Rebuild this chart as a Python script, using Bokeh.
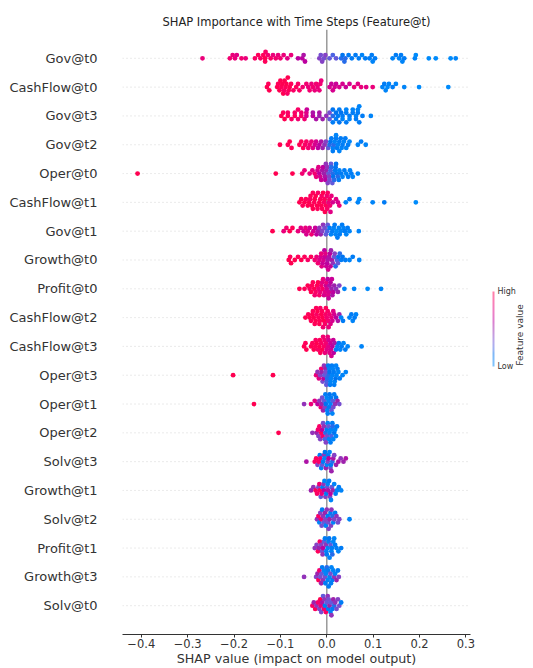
import math
import numpy as np
from bokeh.plotting import figure
from bokeh.models import (Range1d, FixedTicker, Span, ColorBar, LinearColorMapper,
                          LinearAxis, ColumnDataSource)
from bokeh.transform import transform
from bokeh.embed import file_html
from bokeh.resources import INLINE

# ---------------- data ----------------
features = ["Gov@t0", "CashFlow@t0", "Gov@t3", "Gov@t2", "Oper@t0", "CashFlow@t1",
            "Gov@t1", "Growth@t0", "Profit@t0", "CashFlow@t2", "CashFlow@t3", "Oper@t3",
            "Oper@t1", "Oper@t2", "Solv@t3", "Growth@t1", "Solv@t2", "Profit@t1",
            "Growth@t3", "Solv@t0"]

gov_t0_shap = [-0.268, -0.209, -0.203, -0.198, -0.194, -0.184, -0.175, -0.155, -0.148, -0.143,
               -0.137, -0.133, -0.133, -0.132, -0.127, -0.121, -0.116, -0.110, -0.105, -0.100,
               -0.093, -0.085, -0.077, -0.062, -0.053, -0.050, -0.047, -0.016, -0.013, -0.010,
               -0.006, -0.003, 0.006, 0.013, 0.020, 0.031, 0.034, 0.038, 0.040, 0.047, 0.054,
               0.062, 0.069, 0.076, 0.083, 0.092, 0.097, 0.099, 0.104, 0.142, 0.149, 0.156,
               0.160, 0.163, 0.167, 0.190, 0.192, 0.220, 0.235, 0.267, 0.278]
gov_t0_value = [0.8, 0.85, 0.8, 0.8, 0.75, 0.85, 0.8, 0.9, 0.95, 0.9, 0.95, 1.0, 0.95, 0.9, 0.85,
                0.9, 0.8, 0.85, 0.8, 0.85, 0.8, 0.75, 0.8, 0.6, 0.6, 0.55, 0.6, 0.4, 0.35, 0.4,
                0.35, 0.4, 0.3, 0.25, 0.3, 0.2, 0.15, 0.2, 0.2, 0.1, 0.1, 0.1, 0.1, 0.05, 0.1,
                0.1, 0.1, 0.05, 0.1, 0.05, 0.1, 0.05, 0.1, 0.05, 0.1, 0.05, 0.0, 0.0, 0.0, 0.0,
                0.05]

cashflow_t0_shap = [-0.129, -0.126, -0.124, -0.107, -0.105, -0.102, -0.100, -0.098, -0.096, -0.094,
                    -0.092, -0.091, -0.089, -0.087, -0.085, -0.084, -0.082, -0.080, -0.077, -0.072,
                    -0.066, -0.062, -0.059, -0.052, -0.044, -0.040, -0.037, -0.033, -0.030, -0.026,
                    -0.023, -0.020, -0.016, -0.014, -0.012, 0.006, 0.010, 0.013, 0.017, 0.020,
                    0.027, 0.034, 0.041, 0.049, 0.059, 0.067, 0.074, 0.085, 0.099, 0.120, 0.124,
                    0.127, 0.131, 0.134, 0.142, 0.149, 0.167, 0.199, 0.262]
cashflow_t0_value = [1.0, 0.95, 1.0, 1.0, 0.95, 1.0, 1.0, 0.95, 1.0, 1.0, 0.9, 1.0, 0.95, 1.0, 0.9,
                     1.0, 0.95, 1.0, 0.95, 0.9, 0.95, 0.9, 0.9, 0.85, 0.85, 0.8, 0.85, 0.8, 0.85,
                     0.8, 0.85, 0.8, 0.8, 0.85, 0.8, 0.7, 0.65, 0.7, 0.7, 0.65, 0.7, 0.7, 0.65, 0.7,
                     0.8, 0.75, 0.8, 0.75, 0.8, 0.05, 0.1, 0.05, 0.0, 0.05, 0.1, 0.05, 0.05, 0.0, 0.0]

gov_t3_shap = [-0.098, -0.094, -0.091, -0.084, -0.084, -0.076, -0.069, -0.069, -0.062, -0.062,
               -0.055, -0.055, -0.048, -0.044, -0.044, -0.043, -0.030, -0.030, -0.023, -0.016,
               -0.016, -0.009, -0.001, 0.006, 0.006, 0.013, 0.013, 0.013, 0.020, 0.020, 0.024,
               0.027, 0.027, 0.031, 0.034, 0.034, 0.042, 0.042, 0.042, 0.049, 0.049, 0.056,
               0.056, 0.063, 0.063, 0.067, 0.067, 0.070, 0.070, 0.077, 0.095]
gov_t3_value = [1.0, 0.95, 1.0, 0.95, 0.9, 0.9, 0.95, 0.9, 0.85, 0.9, 0.9, 0.85, 0.85, 0.7, 0.75,
                0.65, 0.6, 0.55, 0.55, 0.5, 0.55, 0.5, 0.45, 0.35, 0.3, 0.2, 0.15, 0.1, 0.15, 0.1,
                0.1, 0.1, 0.15, 0.15, 0.1, 0.05, 0.1, 0.05, 0.1, 0.1, 0.05, 0.1, 0.05, 0.05, 0.1,
                0.1, 0.05, 0.1, 0.05, 0.1, 0.05]

gov_t2_shap = [-0.101, -0.084, -0.080, -0.076, -0.059, -0.055, -0.051, -0.047, -0.044, -0.040,
               -0.037, -0.033, -0.030, -0.026, -0.023, -0.019, -0.016, -0.012, -0.009, -0.005,
               -0.002, 0.003, 0.006, 0.008, 0.010, 0.013, 0.013, 0.015, 0.017, 0.020, 0.020,
               0.022, 0.024, 0.027, 0.027, 0.030, 0.032, 0.034, 0.037, 0.040, 0.042, 0.046,
               0.049, 0.067, 0.074, 0.084]
gov_t2_value = [1.0, 0.95, 1.0, 0.95, 1.0, 0.95, 0.95, 0.9, 0.9, 0.85, 0.85, 0.8, 0.75, 0.7, 0.7,
                0.6, 0.6, 0.55, 0.5, 0.45, 0.4, 0.3, 0.2, 0.15, 0.1, 0.05, 0.1, 0.2, 0.05, 0.1,
                0.05, 0.1, 0.05, 0.1, 0.05, 0.1, 0.05, 0.1, 0.05, 0.1, 0.05, 0.1, 0.05, 0.05, 0.1,
                0.05]

oper_t0_shap = [-0.408, -0.110, -0.074, -0.053, -0.048, -0.037, -0.031, -0.026, -0.023, -0.020,
                -0.018, -0.016, -0.014, -0.012, -0.010, -0.008, -0.006, -0.004, -0.003, -0.002,
                -0.001, 0.001, 0.002, 0.004, 0.005, 0.006, 0.008, 0.009, 0.010, 0.012, 0.013,
                0.014, 0.016, 0.018, 0.019, 0.020, 0.022, 0.024, 0.026, 0.027, 0.031, 0.034,
                0.038, 0.042, 0.046, 0.050, 0.053, 0.056, 0.067]
oper_t0_value = [1.0, 1.0, 1.0, 0.85, 0.8, 0.8, 0.75, 0.85, 0.8, 0.7, 0.75, 0.6, 0.7, 0.65, 0.55,
                 0.6, 0.5, 0.55, 0.6, 0.45, 0.5, 0.45, 0.4, 0.3, 0.4, 0.35, 0.25, 0.3, 0.2, 0.3,
                 0.2, 0.15, 0.2, 0.1, 0.15, 0.15, 0.1, 0.2, 0.1, 0.05, 0.1, 0.05, 0.1, 0.05, 0.1,
                 0.05, 0.1, 0.05, 0.05]

cashflow_t1_shap = [-0.059, -0.055, -0.052, -0.048, -0.045, -0.041, -0.038, -0.036, -0.035, -0.032,
                    -0.030, -0.030, -0.027, -0.026, -0.024, -0.021, -0.020, -0.019, -0.016, -0.014,
                    -0.012, -0.011, -0.010, -0.008, -0.006, -0.005, -0.004, -0.002, 0.000, 0.001,
                    0.002, 0.004, 0.006, 0.007, 0.008, 0.010, 0.013, 0.020, 0.024, 0.027, 0.041,
                    0.049, 0.067, 0.070, 0.099, 0.124, 0.192]
cashflow_t1_value = [1.0, 1.0, 0.95, 1.0, 0.95, 1.0, 1.0, 0.9, 0.95, 1.0, 1.0, 0.95, 0.95, 1.0,
                     1.0, 1.0, 0.95, 0.9, 1.0, 0.95, 1.0, 0.9, 0.95, 1.0, 0.9, 0.95, 1.0, 0.95,
                     0.85, 0.9, 0.9, 0.8, 0.9, 0.85, 0.75, 0.8, 0.7, 0.75, 0.7, 0.8, 0.05, 0.1,
                     0.05, 0.0, 0.05, 0.1, 0.0]

gov_t1_shap = [-0.117, -0.093, -0.087, -0.080, -0.074, -0.062, -0.056, -0.050, -0.046, -0.044,
               -0.041, -0.037, -0.033, -0.029, -0.025, -0.022, -0.019, -0.016, -0.013, -0.010,
               -0.008, -0.005, -0.002, 0.001, 0.002, 0.006, 0.009, 0.012, 0.015, 0.017, 0.019,
               0.021, 0.023, 0.026, 0.028, 0.030, 0.033, 0.036, 0.039, 0.042, 0.045, 0.049, 0.069]
gov_t1_value = [1.0, 0.8, 0.85, 1.0, 0.95, 0.8, 0.75, 0.7, 0.8, 0.7, 0.75, 0.7, 0.85, 0.7, 0.65,
                0.6, 0.55, 0.45, 0.5, 0.4, 0.45, 0.35, 0.3, 0.25, 0.3, 0.1, 0.05, 0.1, 0.05, 0.1,
                0.05, 0.0, 0.1, 0.05, 0.1, 0.05, 0.1, 0.05, 0.1, 0.05, 0.1, 0.05, 0.05]

growth_t0_shap = [-0.082, -0.079, -0.077, -0.069, -0.062, -0.055, -0.048, -0.041, -0.034, -0.026,
                  -0.022, -0.019, -0.016, -0.013, -0.012, -0.011, -0.009, -0.007, -0.005, -0.004,
                  -0.003, -0.001, 0.001, 0.002, 0.003, 0.005, 0.007, 0.008, 0.009, 0.011, 0.013,
                  0.016, 0.017, 0.019, 0.022, 0.024, 0.025, 0.028, 0.031, 0.034, 0.040, 0.049,
                  0.056, 0.070]
growth_t0_value = [1.0, 0.95, 1.0, 1.0, 0.95, 1.0, 0.95, 0.9, 0.95, 0.85, 0.8, 0.85, 0.75, 0.7,
                   0.8, 0.75, 0.65, 0.7, 0.6, 0.65, 0.75, 0.65, 0.6, 0.55, 0.7, 0.55, 0.6, 0.65,
                   0.5, 0.55, 0.45, 0.3, 0.4, 0.2, 0.25, 0.3, 0.15, 0.2, 0.1, 0.15, 0.1, 0.05, 0.1,
                   0.05]

profit_t0_shap = [-0.059, -0.048, -0.041, -0.037, -0.034, -0.032, -0.030, -0.027, -0.026, -0.024,
                  -0.021, -0.019, -0.018, -0.016, -0.014, -0.012, -0.010, -0.009, -0.008, -0.006,
                  -0.004, -0.002, -0.001, 0.000, 0.002, 0.003, 0.004, 0.005, 0.006, 0.008, 0.010,
                  0.011, 0.012, 0.014, 0.016, 0.020, 0.024, 0.027, 0.038, 0.059, 0.088, 0.117]
profit_t0_value = [1.0, 0.95, 1.0, 0.9, 1.0, 0.95, 0.95, 1.0, 0.85, 0.9, 0.95, 1.0, 0.85, 0.9, 0.8,
                   0.85, 0.75, 0.9, 0.8, 0.7, 0.75, 0.65, 0.8, 0.7, 0.6, 0.75, 0.65, 0.7, 0.55,
                   0.6, 0.5, 0.65, 0.55, 0.6, 0.5, 0.45, 0.5, 0.4, 0.05, 0.05, 0.0, 0.05]

cashflow_t2_shap = [-0.046, -0.040, -0.037, -0.034, -0.031, -0.030, -0.028, -0.026, -0.024, -0.023,
                    -0.022, -0.020, -0.018, -0.016, -0.015, -0.014, -0.012, -0.010, -0.009, -0.008,
                    -0.006, -0.004, -0.003, -0.002, 0.000, 0.002, 0.003, 0.004, 0.006, 0.008, 0.010,
                    0.012, 0.014, 0.016, 0.020, 0.024, 0.027, 0.031, 0.035, 0.049, 0.053, 0.056,
                    0.060, 0.063]
cashflow_t2_value = [1.0, 0.95, 1.0, 0.95, 1.0, 0.95, 1.0, 0.95, 1.0, 0.95, 0.9, 1.0, 0.95, 1.0,
                     0.95, 0.9, 1.0, 0.95, 1.0, 0.85, 1.0, 0.9, 0.9, 0.95, 0.85, 0.9, 0.85, 0.8,
                     0.85, 0.75, 0.8, 0.7, 0.75, 0.7, 0.6, 0.55, 0.5, 0.05, 0.1, 0.05, 0.1, 0.05,
                     0.1, 0.05]

cashflow_t3_shap = [-0.049, -0.046, -0.044, -0.034, -0.031, -0.028, -0.025, -0.024, -0.022, -0.019,
                    -0.016, -0.015, -0.014, -0.012, -0.010, -0.008, -0.006, -0.005, -0.004, -0.002,
                    0.000, 0.002, 0.003, 0.004, 0.006, 0.008, 0.009, 0.010, 0.012, 0.014, 0.015,
                    0.017, 0.020, 0.023, 0.026, 0.029, 0.032, 0.036, 0.040, 0.045, 0.075]
cashflow_t3_value = [1.0, 0.95, 1.0, 1.0, 0.95, 1.0, 0.95, 0.9, 1.0, 0.9, 1.0, 0.95, 0.95, 0.9, 1.0,
                     0.85, 0.9, 0.85, 0.8, 0.85, 0.75, 0.8, 0.75, 0.7, 0.75, 0.65, 0.7, 0.7, 0.6,
                     0.65, 0.6, 0.55, 0.1, 0.05, 0.1, 0.05, 0.1, 0.05, 0.1, 0.05, 0.05]

oper_t3_shap = [-0.202, -0.116, -0.023, -0.020, -0.017, -0.014, -0.012, -0.011, -0.009, -0.007,
                -0.006, -0.005, -0.003, -0.002, -0.001, 0.000, 0.001, 0.003, 0.004, 0.005, 0.006,
                0.007, 0.008, 0.009, 0.011, 0.012, 0.013, 0.015, 0.016, 0.017, 0.019, 0.020,
                0.021, 0.023, 0.025, 0.028, 0.034, 0.041]
oper_t3_value = [1.0, 1.0, 0.8, 0.45, 0.75, 0.4, 0.85, 0.5, 0.35, 0.6, 0.45, 0.3, 0.5, 0.35, 0.3,
                 0.25, 0.2, 0.1, 0.2, 0.05, 0.15, 0.1, 0.05, 0.05, 0.1, 0.05, 0.05, 0.1, 0.1, 0.05,
                 0.15, 0.05, 0.05, 0.1, 0.05, 0.1, 0.05, 0.05]

oper_t1_shap = [-0.157, -0.049, -0.034, -0.026, -0.020, -0.016, -0.013, -0.011, -0.010, -0.008,
                -0.006, -0.004, -0.003, -0.002, 0.000, 0.001, 0.002, 0.004, 0.005, 0.006, 0.008,
                0.009, 0.010, 0.012, 0.013, 0.014, 0.016, 0.018, 0.020, 0.023, 0.027]
oper_t1_value = [1.0, 0.45, 0.8, 0.75, 0.6, 0.45, 0.8, 0.5, 0.35, 0.5, 0.3, 0.4, 0.1, 0.15, 0.05,
                 0.05, 0.1, 0.05, 0.1, 0.15, 0.05, 0.1, 0.3, 0.05, 0.25, 0.35, 0.1, 0.45, 0.15,
                 0.5, 0.35]

oper_t2_shap = [-0.104, -0.031, -0.022, -0.019, -0.018, -0.016, -0.014, -0.012, -0.010, -0.009,
                -0.008, -0.006, -0.004, -0.003, -0.002, 0.000, 0.001, 0.002, 0.004, 0.005, 0.006,
                0.008, 0.009, 0.010, 0.012, 0.013, 0.014, 0.016, 0.018, 0.020, 0.022]
oper_t2_value = [1.0, 0.45, 0.5, 0.85, 0.4, 0.9, 0.4, 0.95, 0.6, 0.85, 0.35, 0.45, 0.25, 0.2, 0.4,
                 0.1, 0.35, 0.05, 0.3, 0.05, 0.05, 0.1, 0.05, 0.25, 0.1, 0.2, 0.05, 0.15, 0.05,
                 0.05, 0.1]

solv_t3_shap = [-0.044, -0.026, -0.023, -0.020, -0.017, -0.015, -0.014, -0.012, -0.010, -0.008,
                -0.006, -0.005, -0.004, -0.002, 0.000, 0.002, 0.003, 0.004, 0.006, 0.008, 0.009,
                0.010, 0.012, 0.014, 0.016, 0.020, 0.025, 0.030, 0.036, 0.041]
solv_t3_value = [0.55, 0.9, 0.95, 0.4, 0.9, 0.1, 0.85, 0.05, 0.3, 0.1, 0.45, 0.05, 0.15, 0.5, 0.05,
                 0.4, 0.1, 0.6, 0.05, 0.35, 0.1, 0.5, 0.2, 0.55, 0.4, 0.5, 0.55, 0.45, 0.5, 0.55]

growth_t1_shap = [-0.034, -0.029, -0.024, -0.021, -0.018, -0.016, -0.015, -0.013, -0.011, -0.009,
                  -0.007, -0.006, -0.005, -0.003, -0.001, 0.001, 0.002, 0.003, 0.005, 0.007, 0.008,
                  0.009, 0.011, 0.013, 0.016, 0.019, 0.022, 0.026, 0.031]
growth_t1_value = [0.5, 0.45, 0.95, 0.9, 0.35, 0.85, 0.95, 0.3, 0.8, 0.1, 0.45, 0.6, 0.05, 0.4,
                   0.1, 0.35, 0.05, 0.55, 0.1, 0.4, 0.6, 0.05, 0.3, 0.5, 0.05, 0.1, 0.05, 0.1,
                   0.05]

solv_t2_shap = [-0.021, -0.018, -0.016, -0.014, -0.012, -0.011, -0.010, -0.008, -0.006, -0.004,
                -0.003, -0.002, 0.000, 0.002, 0.003, 0.004, 0.006, 0.008, 0.009, 0.010, 0.012,
                0.014, 0.016, 0.018, 0.021, 0.024, 0.027, 0.049]
solv_t2_value = [0.45, 0.9, 0.05, 0.4, 0.85, 0.35, 0.1, 0.45, 0.3, 0.5, 0.4, 0.05, 0.45, 0.1, 0.35,
                 0.4, 0.5, 0.1, 0.4, 0.45, 0.2, 0.05, 0.4, 0.1, 0.45, 0.35, 0.4, 0.05]

profit_t1_shap = [-0.026, -0.022, -0.019, -0.017, -0.015, -0.012, -0.010, -0.009, -0.008, -0.006,
                  -0.004, -0.002, -0.001, 0.000, 0.002, 0.004, 0.005, 0.006, 0.008, 0.010, 0.011,
                  0.012, 0.014, 0.016, 0.018, 0.021, 0.025, 0.031]
profit_t1_value = [0.45, 0.4, 0.95, 0.5, 0.9, 0.4, 0.35, 0.45, 0.6, 0.3, 0.1, 0.45, 0.05, 0.1,
                   0.05, 0.1, 0.15, 0.05, 0.3, 0.05, 0.1, 0.2, 0.05, 0.05, 0.1, 0.1, 0.05, 0.1]

growth_t3_shap = [-0.049, -0.023, -0.020, -0.018, -0.016, -0.014, -0.012, -0.011, -0.010, -0.008,
                  -0.006, -0.004, -0.003, -0.002, 0.000, 0.002, 0.003, 0.004, 0.006, 0.008, 0.009,
                  0.010, 0.012, 0.014, 0.016, 0.018, 0.021, 0.024, 0.026]
growth_t3_value = [0.45, 0.4, 0.5, 0.95, 0.85, 0.35, 0.5, 0.3, 0.1, 0.45, 0.05, 0.35, 0.1, 0.05,
                   0.2, 0.05, 0.1, 0.1, 0.05, 0.35, 0.1, 0.05, 0.1, 0.05, 0.45, 0.05, 0.5, 0.1,
                   0.4]

solv_t0_shap = [-0.031, -0.028, -0.025, -0.022, -0.019, -0.016, -0.014, -0.013, -0.012, -0.010,
                -0.008, -0.006, -0.005, -0.004, -0.002, 0.000, 0.002, 0.003, 0.004, 0.006, 0.008,
                0.009, 0.010, 0.012, 0.014, 0.016, 0.018, 0.021, 0.024, 0.027, 0.031]
solv_t0_value = [0.9, 0.5, 0.95, 0.45, 0.85, 0.4, 1.0, 0.8, 0.35, 0.55, 0.3, 0.85, 0.45, 0.1, 0.9,
                 0.3, 0.45, 0.1, 0.35, 0.5, 0.05, 0.3, 0.45, 0.1, 0.5, 0.2, 0.45, 0.35, 0.4, 0.35,
                 0.1]

x_ticks = [-0.4, -0.3, -0.2, -0.1, 0.0, 0.1, 0.2, 0.3]
x_tick_labels = ["\u22120.4", "\u22120.3", "\u22120.2", "\u22120.1", "0.0", "0.1", "0.2", "0.3"]

rows = [
    (gov_t0_shap, gov_t0_value), (cashflow_t0_shap, cashflow_t0_value),
    (gov_t3_shap, gov_t3_value), (gov_t2_shap, gov_t2_value),
    (oper_t0_shap, oper_t0_value), (cashflow_t1_shap, cashflow_t1_value),
    (gov_t1_shap, gov_t1_value), (growth_t0_shap, growth_t0_value),
    (profit_t0_shap, profit_t0_value), (cashflow_t2_shap, cashflow_t2_value),
    (cashflow_t3_shap, cashflow_t3_value), (oper_t3_shap, oper_t3_value),
    (oper_t1_shap, oper_t1_value), (oper_t2_shap, oper_t2_value),
    (solv_t3_shap, solv_t3_value), (growth_t1_shap, growth_t1_value),
    (solv_t2_shap, solv_t2_value), (profit_t1_shap, profit_t1_value),
    (growth_t3_shap, growth_t3_value), (solv_t0_shap, solv_t0_value),
]

# ---------------- colormap (SHAP red_blue, LCH interpolation) ----------------
def lch2rgb(l, c, h):
    a = c * math.cos(h)
    b = c * math.sin(h)
    fy = (l + 16.0) / 116.0
    fx = fy + a / 500.0
    fz = fy - b / 200.0

    def finv(t):
        return t ** 3 if t ** 3 > 0.008856 else (t - 16.0 / 116.0) / 7.787

    X, Y, Z = 0.95047 * finv(fx), 1.0 * finv(fy), 1.08883 * finv(fz)
    r = 3.2406 * X - 1.5372 * Y - 0.4986 * Z
    g = -0.9689 * X + 1.8758 * Y + 0.0415 * Z
    bl = 0.0557 * X - 0.2040 * Y + 1.0570 * Z

    def gam(v):
        v = 1.055 * v ** (1 / 2.4) - 0.055 if v > 0.0031308 else 12.92 * v
        return int(round(min(max(v, 0.0), 1.0) * 255))

    return "#%02x%02x%02x" % (gam(r), gam(g), gam(bl))

blue_lch = (54.0, 70.0, 4.6588)
red_lch = (54.0, 90.0, 0.35470565 + 2 * np.pi)
nsteps = 100
l_vals = list(np.linspace(blue_lch[0], 40.0, nsteps // 2)) + list(np.linspace(40.0, red_lch[0], nsteps // 2))
c_vals = np.linspace(blue_lch[1], red_lch[1], nsteps)
h_vals = np.linspace(blue_lch[2], red_lch[2], nsteps)
palette = [lch2rgb(l, c, h) for l, c, h in zip(l_vals, c_vals, h_vals)]
mapper = LinearColorMapper(palette=palette, low=0, high=1)

# ---------------- layout geometry ----------------
W, H = 533, 668
BL, BR, BT, BB = 122, 61, 29, 32
x_start, x_end = -0.4405, 0.3099
n = len(features)
px_per_x = (W - BL - BR) / (x_end - x_start)
px_per_row = (H - BT - BB) / (n + 1.0)

def swarm(xs, diam=3.8, step=3.2, max_layer=3):
    xs = np.asarray(xs, dtype=float)
    order = np.argsort(xs, kind="stable")
    levels = [0]
    for k in range(1, max_layer + 1):
        levels += [k, -k]
    placed = {lv: [] for lv in levels}
    offs = np.zeros(len(xs))
    for i in order:
        xp = xs[i] * px_per_x
        chosen = None
        for lv in levels:
            if all(abs(xp - q) >= diam for q in placed[lv]):
                chosen = lv
                break
        if chosen is None:
            chosen = max(levels, key=lambda lv: min(abs(xp - q) for q in placed[lv]))
        placed[chosen].append(xp)
        offs[i] = chosen * step / px_per_row
    return offs

xs_all, ys_all, vs_all = [], [], []
for idx, (sh, fv) in enumerate(rows):
    pos = n - 1 - idx
    offs = swarm(sh)
    xs_all += list(sh)
    ys_all += list(pos + offs)
    vs_all += list(fv)

src = ColumnDataSource(dict(x=xs_all, y=ys_all, v=vs_all))

# ---------------- figure ----------------
p = figure(width=W, height=H, x_range=Range1d(x_start, x_end), y_range=Range1d(-1, n),
           output_backend="svg", toolbar_location=None,
           min_border_left=BL, min_border_right=BR, min_border_top=BT, min_border_bottom=BB,
           title="SHAP Importance with Time Steps (Feature@t)")
p.outline_line_color = None
p.grid.visible = False
p.background_fill_color = "white"
p.border_fill_color = "white"

p.title.align = "center"
p.title.text_font = "DejaVu Sans"
p.title.text_font_size = "11.5px"
p.title.text_font_style = "normal"
p.title.text_color = "#222222"
p.title.standoff = 2

# row guide lines and zero line
for i in range(n):
    p.add_layout(Span(location=i, dimension="width", line_color="#cccccc",
                      line_width=0.8, line_dash="1 3", level="underlay"))
p.add_layout(Span(location=0, dimension="height", line_color="#999999",
                  line_width=1.5, level="underlay"))

p.scatter(x="x", y="y", source=src, size=4.8, line_width=0,
          fill_color=transform("v", mapper), line_color=None)

# x axis
xa = p.xaxis[0]
xa.ticker = FixedTicker(ticks=x_ticks)
xa.major_label_overrides = {t: s for t, s in zip(x_ticks, x_tick_labels)}
xa.minor_tick_line_color = None
xa.major_tick_out = 3
xa.major_tick_in = 0
xa.axis_line_color = "#333333"
xa.major_tick_line_color = "#333333"
xa.major_label_text_color = "#333333"
xa.major_label_text_font = "DejaVu Sans"
xa.major_label_text_font_size = "11.5px"
xa.major_label_standoff = 1
xa.axis_label = "SHAP value (impact on model output)"
xa.axis_label_text_font = "DejaVu Sans"
xa.axis_label_text_font_size = "12.7px"
xa.axis_label_text_font_style = "normal"
xa.axis_label_text_color = "#333333"
xa.axis_label_standoff = 0

# y axis
ya = p.yaxis[0]
ya.ticker = FixedTicker(ticks=list(range(n)))
ya.major_label_overrides = {n - 1 - i: f for i, f in enumerate(features)}
ya.axis_line_color = None
ya.major_tick_line_color = None
ya.minor_tick_line_color = None
ya.major_tick_out = 0
ya.major_label_standoff = 25
ya.major_label_text_font = "DejaVu Sans"
ya.major_label_text_font_size = "13px"
ya.major_label_text_color = "#333333"

# colour bar
cb = ColorBar(color_mapper=mapper, ticker=FixedTicker(ticks=[0, 1]),
              major_label_overrides={0: "Low", 1: "High"},
              width=2, height=75, location=(22, 268), padding=0, margin=0,
              scale_alpha=0.5, major_tick_line_color=None, minor_tick_line_color=None,
              bar_line_color=None, border_line_color=None, background_fill_color=None,
              label_standoff=3, major_label_text_font="DejaVu Sans",
              major_label_text_font_size="8px", major_label_text_color="#333333")
p.add_layout(cb, "right")

# colour bar caption, as a rotated label on a bare right-hand axis
cap_text = "Feature value"
cap_font_px = 9.0
cap_half_len = 0.5 * 7.5 * cap_font_px / px_per_row   # half text length, in row units
mid = (p.y_range.start + p.y_range.end) / 2.0 - cap_half_len
cap = LinearAxis(ticker=FixedTicker(ticks=[mid]), major_label_overrides={mid: cap_text},
                 axis_line_color=None, major_tick_line_color=None, minor_tick_line_color=None,
                 major_tick_out=0, major_tick_in=0, major_label_standoff=2,
                 major_label_orientation=math.pi / 2, major_label_text_font="DejaVu Sans",
                 major_label_text_font_size="%gpx" % cap_font_px, major_label_text_color="#333333")
p.add_layout(cap, "right")

open("out.html", "w").write(file_html(p, INLINE))
